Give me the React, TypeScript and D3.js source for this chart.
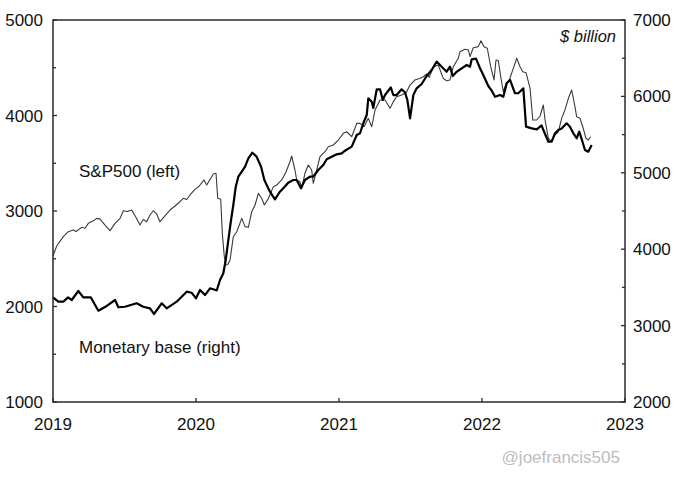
import React from "react";
import * as d3 from "d3";

// S&P500 (left axis) — decimal year, index level
const spDates = [
  2019.0, 2019.026, 2019.072, 2019.107, 2019.142, 2019.161, 2019.201, 2019.224, 2019.247, 2019.282,
  2019.306, 2019.329, 2019.364, 2019.399, 2019.434, 2019.469, 2019.492, 2019.52, 2019.55, 2019.58,
  2019.608, 2019.631, 2019.655, 2019.678, 2019.701, 2019.725, 2019.748, 2019.783, 2019.818, 2019.853,
  2019.888, 2019.911, 2019.935, 2019.958, 2019.993, 2020.023, 2020.056, 2020.075, 2020.121, 2020.14,
  2020.152, 2020.173, 2020.184, 2020.198, 2020.208, 2020.222, 2020.238, 2020.261, 2020.285, 2020.32,
  2020.343, 2020.366, 2020.39, 2020.413, 2020.436, 2020.459, 2020.478, 2020.506, 2020.541, 2020.564,
  2020.599, 2020.627, 2020.657, 2020.669, 2020.692, 2020.704, 2020.727, 2020.739, 2020.762, 2020.785,
  2020.809, 2020.82, 2020.844, 2020.867, 2020.902, 2020.925, 2020.96, 2020.995, 2021.03, 2021.054,
  2021.089, 2021.124, 2021.147, 2021.175, 2021.205, 2021.229, 2021.252, 2021.287, 2021.322, 2021.357,
  2021.38, 2021.403, 2021.438, 2021.469, 2021.497, 2021.531, 2021.566, 2021.59, 2021.613, 2021.631,
  2021.659, 2021.694, 2021.729, 2021.753, 2021.776, 2021.799, 2021.834, 2021.846, 2021.881, 2021.904,
  2021.916, 2021.939, 2021.974, 2021.993, 2022.014, 2022.037, 2022.061, 2022.084, 2022.098, 2022.114,
  2022.131, 2022.149, 2022.168, 2022.191, 2022.219, 2022.243, 2022.266, 2022.285, 2022.308, 2022.336,
  2022.355, 2022.383, 2022.406, 2022.429, 2022.441, 2022.464, 2022.487, 2022.51, 2022.534, 2022.557,
  2022.58, 2022.604, 2022.627, 2022.65, 2022.662, 2022.685, 2022.708, 2022.727, 2022.743, 2022.76,
];
const spValues = [
  2530, 2634, 2731, 2783, 2801, 2785, 2829, 2820, 2871, 2898,
  2923, 2915, 2853, 2794, 2871, 2923, 3003, 2995, 3010, 2934,
  2853, 2912, 2888, 2958, 3003, 2969, 2888, 2948, 3010, 3052,
  3097, 3133, 3120, 3168, 3227, 3262, 3325, 3272, 3387, 3395,
  3133, 3123, 2766, 2521, 2435, 2440, 2487, 2731, 2783, 2923,
  2836, 2829, 2993, 3063, 3185, 3133, 3063, 3130, 3255, 3272,
  3325, 3401, 3516, 3576, 3429, 3325, 3307, 3237, 3395, 3482,
  3429, 3290, 3429, 3569, 3621, 3673, 3691, 3743, 3813, 3830,
  3778, 3918, 3918, 3883, 3970, 3883, 4058, 4162, 4162, 4075,
  4145, 4197, 4215, 4239, 4319, 4372, 4389, 4406, 4435, 4400,
  4505, 4529, 4389, 4364, 4372, 4511, 4599, 4668, 4693, 4686,
  4616, 4710, 4721, 4783, 4721, 4704, 4511, 4372, 4581, 4575,
  4406, 4249, 4337, 4372, 4494, 4599, 4511, 4459, 4448, 4285,
  3953, 3953, 3995, 4110, 3953, 3761, 3726, 3796, 3830, 3970,
  4058, 4180, 4267, 4092, 3987, 3970, 3866, 3761, 3743, 3778,
];

// Monetary base (right axis) — decimal year, $ billion
const mbDates = [
  2019.0, 2019.037, 2019.072, 2019.105, 2019.131, 2019.177, 2019.212, 2019.264, 2019.317, 2019.376,
  2019.434, 2019.457, 2019.503, 2019.585, 2019.631, 2019.678, 2019.706, 2019.76, 2019.795, 2019.865,
  2019.935, 2019.97, 2020.0, 2020.028, 2020.063, 2020.098, 2020.121, 2020.145, 2020.168, 2020.191,
  2020.208, 2020.226, 2020.245, 2020.261, 2020.278, 2020.296, 2020.32, 2020.343, 2020.366, 2020.394,
  2020.424, 2020.455, 2020.478, 2020.517, 2020.552, 2020.587, 2020.617, 2020.645, 2020.68, 2020.704,
  2020.734, 2020.762, 2020.797, 2020.82, 2020.855, 2020.89, 2020.914, 2020.949, 2020.984, 2021.019,
  2021.042, 2021.089, 2021.124, 2021.147, 2021.17, 2021.194, 2021.205, 2021.229, 2021.24, 2021.264,
  2021.287, 2021.306, 2021.322, 2021.362, 2021.38, 2021.403, 2021.438, 2021.462, 2021.478, 2021.497,
  2021.52, 2021.543, 2021.578, 2021.613, 2021.648, 2021.683, 2021.718, 2021.753, 2021.776, 2021.795,
  2021.823, 2021.858, 2021.893, 2021.916, 2021.928, 2021.958, 2021.986, 2022.009, 2022.044, 2022.068,
  2022.091, 2022.126, 2022.149, 2022.173, 2022.196, 2022.231, 2022.254, 2022.289, 2022.308, 2022.348,
  2022.383, 2022.417, 2022.429, 2022.464, 2022.487, 2022.51, 2022.534, 2022.557, 2022.592, 2022.615,
  2022.639, 2022.662, 2022.68, 2022.699, 2022.72, 2022.743, 2022.767,
];
const mbValues = [
  3370, 3313, 3313, 3370, 3335, 3453, 3370, 3370, 3195, 3257,
  3335, 3240, 3247, 3292, 3247, 3226, 3152, 3292, 3226, 3313,
  3444, 3430, 3357, 3466, 3400, 3488, 3475, 3460, 3597, 3685,
  3859, 4120, 4382, 4579, 4818, 4949, 5015, 5080, 5190, 5263,
  5211, 5080, 4906, 4753, 4653, 4753, 4810, 4870, 4906, 4906,
  4797, 4906, 4949, 4949, 5037, 5102, 5177, 5211, 5242, 5255,
  5289, 5342, 5495, 5518, 5648, 5757, 5975, 5931, 5850, 6093,
  6093, 5953, 6018, 6119, 6018, 6018, 6093, 6050, 5953, 5713,
  6018, 6106, 6162, 6267, 6346, 6455, 6389, 6323, 6389, 6267,
  6323, 6368, 6411, 6389, 6485, 6494, 6368, 6280, 6136, 6075,
  5996, 6018, 5996, 6171, 6215, 6041, 6041, 6106, 5604, 5582,
  5569, 5620, 5560, 5407, 5407, 5517, 5560, 5580, 5648, 5604,
  5517, 5452, 5538, 5429, 5299, 5276, 5364,
];

const xTicks = [2019, 2020, 2021, 2022, 2023];
const leftTicks = [1000, 2000, 3000, 4000, 5000];
const leftMinor = [1500, 2500, 3500, 4500];
const rightTicks = [2000, 3000, 4000, 5000, 6000, 7000];
const rightMinor = [2500, 3500, 4500, 5500, 6500];

const W = 680;
const H = 477;
const L = 53;
const R = 625;
const T = 20;
const B = 402;
const FONT = "'Liberation Sans', Arial, Helvetica, sans-serif";

export default function App() {
  const x = d3.scaleLinear().domain([2019, 2023]).range([L, R]);
  const yL = d3.scaleLinear().domain([1000, 5000]).range([B, T]);
  const yR = d3.scaleLinear().domain([2000, 7000]).range([B, T]);

  const spLine = d3
    .line<number>()
    .x((_, i) => x(spDates[i]))
    .y((d) => yL(d));
  const mbLine = d3
    .line<number>()
    .x((_, i) => x(mbDates[i]))
    .y((d) => yR(d));

  const axisColor = "#2a2a2a";

  return (
    <svg
      width={W}
      height={H}
      style={{ position: "absolute", left: 0, top: 0, background: "#fff" }}
      fontFamily={FONT}
    >
      <rect x={0} y={0} width={W} height={H} fill="#fff" />
      {/* lines */}
      <path d={spLine(spValues) || ""} fill="none" stroke="#3a3a3a" strokeWidth={1.1} strokeLinejoin="round" />
      <path d={mbLine(mbValues) || ""} fill="none" stroke="#000" strokeWidth={2.2} strokeLinejoin="round" />

      {/* frame */}
      <rect x={L} y={T} width={R - L} height={B - T} fill="none" stroke={axisColor} strokeWidth={1.5} />

      {/* left ticks */}
      {leftTicks.map((t) => (
        <g key={"l" + t}>
          <line x1={L} x2={L + 4} y1={yL(t)} y2={yL(t)} stroke={axisColor} strokeWidth={1.3} />
          <text x={43} y={yL(t) + 6} textAnchor="end" fontSize={17} fill="#111">
            {t}
          </text>
        </g>
      ))}
      {leftMinor.map((t) => (
        <line key={"lm" + t} x1={L} x2={L + 3} y1={yL(t)} y2={yL(t)} stroke={axisColor} strokeWidth={1.3} />
      ))}

      {/* right ticks */}
      {rightTicks.map((t) => (
        <g key={"r" + t}>
          <line x1={R} x2={R - 4} y1={yR(t)} y2={yR(t)} stroke={axisColor} strokeWidth={1.3} />
          <text x={633} y={yR(t) + 6} textAnchor="start" fontSize={17} fill="#111">
            {t}
          </text>
        </g>
      ))}
      {rightMinor.map((t) => (
        <line key={"rm" + t} x1={R} x2={R - 3} y1={yR(t)} y2={yR(t)} stroke={axisColor} strokeWidth={1.3} />
      ))}

      {/* x ticks */}
      {xTicks.map((t) => (
        <g key={"x" + t}>
          <line x1={x(t)} x2={x(t)} y1={B} y2={B - 4} stroke={axisColor} strokeWidth={1.3} />
          <text x={x(t)} y={429.5} textAnchor="middle" fontSize={17} fill="#111">
            {t}
          </text>
        </g>
      ))}

      {/* annotations */}
      <text x={79} y={177} fontSize={17} fill="#111">
        S&amp;P500 (left)
      </text>
      <text x={79} y={353} fontSize={17} fill="#111">
        Monetary base (right)
      </text>
      <text x={616} y={42} textAnchor="end" fontSize={16.5} fontStyle="italic" fill="#111">
        $ billion
      </text>
      <text x={620} y={463} textAnchor="end" fontSize={17} fill="#bdbdbd">
        @joefrancis505
      </text>
    </svg>
  );
}
